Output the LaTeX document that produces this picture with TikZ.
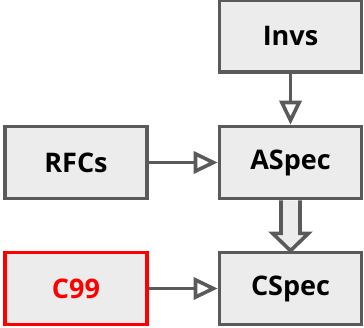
\documentclass[tikz,border=0pt]{standalone}
\usepackage{fontspec}
\setmainfont{Open Sans}
\usetikzlibrary{arrows.meta,calc}
\definecolor{boxgray}{HTML}{5A5A5A}
\definecolor{boxfill}{HTML}{ECECEC}

\begin{document}
\begin{tikzpicture}[x=1pt,y=-1pt,
  box/.style={draw=boxgray,fill=boxfill,line width=3.6pt,minimum width=142pt,minimum height=72pt,
    font=\fontsize{27}{30}\selectfont\bfseries},
  link/.style={draw=boxgray,line width=3.6pt,-{Triangle[open,length=24pt,width=22pt]}}]
\useasboundingbox (0,0) rectangle (364,327);
\node[box] (invs) at (290.5,36) {Invs};
\node[box] (rfcs) at (76,162.5) {RFCs};
\node[box] (aspec) at (290.5,162.5) {ASpec};
\node[box,draw=red,text=red] (c99) at (76,288.5) {C99};
\node[box] (cspec) at (290.5,288.5) {CSpec};
\draw[link] (invs) -- (aspec);
\draw[link] (rfcs) -- (aspec);
\draw[link] (c99) -- (cspec);
% fat arrow
\draw[draw=boxgray,fill=boxfill,line width=3.6pt]
  ($(aspec.south)+(-9.5,0)$) -- ++(0,33) -- ++(-8.5,0) -- (cspec.north)
  -- ($(aspec.south)+(18,33)$) -- ++(-8.5,0) -- ($(aspec.south)+(9.5,0)$);
\end{tikzpicture}
\end{document}
